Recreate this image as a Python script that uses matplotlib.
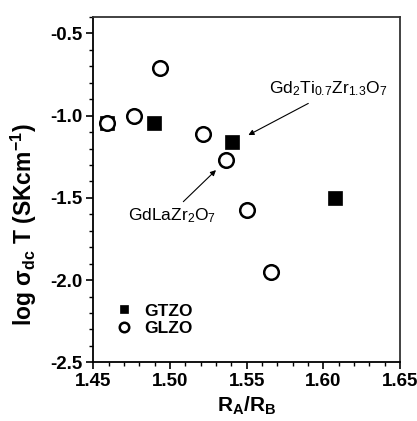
import matplotlib
matplotlib.use("Agg")
import matplotlib.pyplot as plt
from matplotlib.ticker import MultipleLocator, FormatStrFormatter

plt.rcParams['font.family'] = ['Liberation Sans', 'DejaVu Sans']
plt.rcParams['mathtext.default'] = 'regular'

# Data
gtzo_x = [1.459, 1.4896, 1.5407, 1.6076]
gtzo_y = [-1.043, -1.043, -1.160, -1.499]
glzo_x = [1.4591, 1.4765, 1.4935, 1.5213, 1.5363, 1.5504, 1.5657]
glzo_y = [-1.043, -1.000, -0.711, -1.110, -1.272, -1.572, -1.951]
series_labels = ['GTZO', 'GLZO']

fig = plt.figure(figsize=(4.17, 4.21), dpi=100)
ax = fig.add_axes([0.2238, 0.1394, 0.7354, 0.8202])

ax.plot(gtzo_x, gtzo_y, 's', color='black', ms=9.5, mec='black', mew=0.5,
        label=series_labels[0], zorder=3)
ax.plot(glzo_x, glzo_y, 'o', mfc='white', mec='black', ms=10.5, mew=1.8,
        label=series_labels[1], zorder=4)

ax.set_xlim(1.45, 1.65)
ax.set_ylim(-2.5, -0.4)
ax.xaxis.set_major_locator(MultipleLocator(0.05))
ax.xaxis.set_minor_locator(MultipleLocator(0.01))
ax.yaxis.set_major_locator(MultipleLocator(0.5))
ax.yaxis.set_minor_locator(MultipleLocator(0.1))
ax.xaxis.set_major_formatter(FormatStrFormatter('%.2f'))
ax.yaxis.set_major_formatter(FormatStrFormatter('%.1f'))

ax.tick_params(which='major', direction='out', length=5, width=1.2,
               labelsize=13.5, pad=3)
ax.tick_params(which='minor', direction='out', length=3, width=1.0)
for lab in ax.get_xticklabels() + ax.get_yticklabels():
    lab.set_fontweight('bold')
for s in ax.spines.values():
    s.set_linewidth(1.3)
ax.spines['top'].set_color('#333333')
ax.spines['right'].set_color('#333333')

ax.set_xlabel('R$_A$/R$_B$', fontsize=15, fontweight='bold', labelpad=3)
ax.set_ylabel(r'log $\sigma_{dc}$ T (SKcm$^{-1}$)', fontsize=16.5,
              fontweight='bold')
ax.yaxis.set_label_coords(-0.178, 0.40)

ax.annotate('Gd$_2$Ti$_{0.7}$Zr$_{1.3}$O$_7$', xy=(1.5511, -1.118),
            xytext=(1.5645, -0.861), fontsize=12.5, fontweight='normal',
            ha='left', va='baseline')
ax.annotate('', xy=(1.5511, -1.118), xytext=(1.5902, -0.9255),
            arrowprops=dict(arrowstyle='-|>', lw=0.8, color='black',
                            mutation_scale=8, shrinkA=0, shrinkB=0))
ax.annotate('GdLaZr$_2$O$_7$', xy=(1.53, -1.331),
            xytext=(1.4728, -1.635), fontsize=12.5, fontweight='normal',
            ha='left', va='baseline')
ax.annotate('', xy=(1.53, -1.331), xytext=(1.5087, -1.523),
            arrowprops=dict(arrowstyle='-|>', lw=0.8, color='black',
                            mutation_scale=8, shrinkA=0, shrinkB=0))

leg = ax.legend(loc='lower left', bbox_to_anchor=(0.02, 0.03), frameon=False,
                fontsize=12.5, markerscale=0.65, handletextpad=0.7,
                labelspacing=0.15, handlelength=1.0)
for t in leg.get_texts():
    t.set_fontweight('bold')

fig.savefig('out.png', dpi=100)
